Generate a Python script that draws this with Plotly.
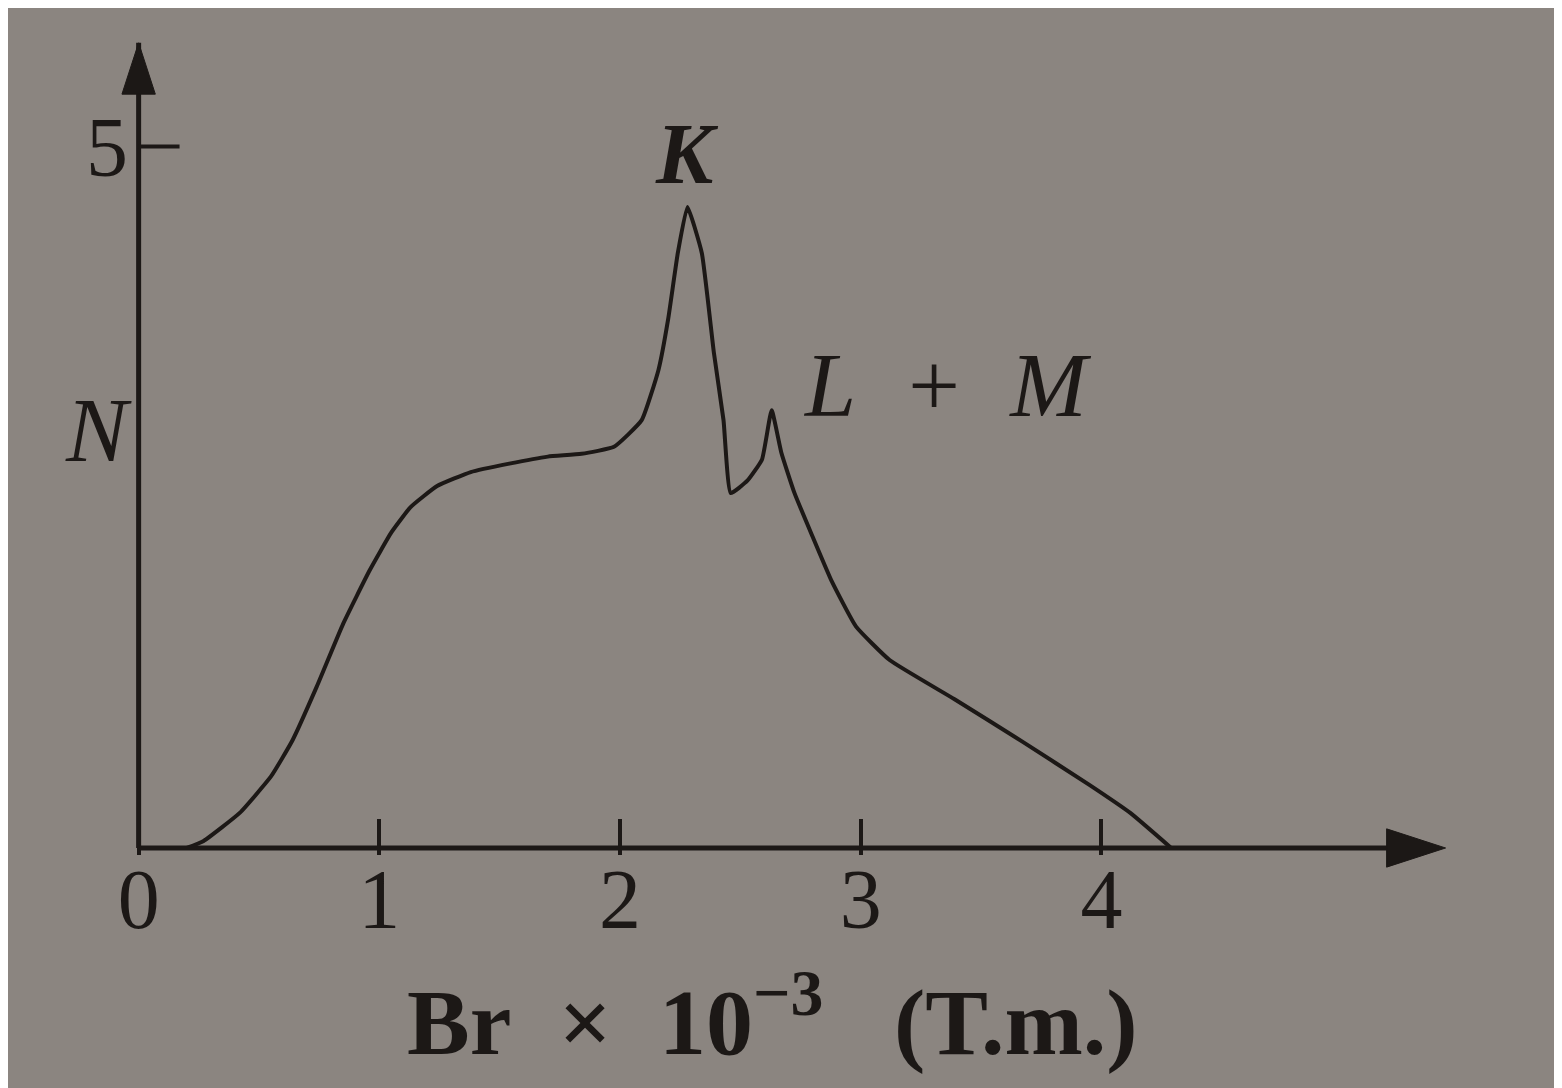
import plotly.graph_objects as go

# Beta spectrum with K and L+M conversion lines
br = [0.20, 0.27, 0.42, 0.55, 0.64, 0.74, 0.85, 0.96, 1.05, 1.13, 1.24, 1.38, 1.54,
      1.70, 1.84, 1.975, 2.09, 2.16, 2.20, 2.24, 2.28, 2.34, 2.39, 2.43, 2.46, 2.53,
      2.59, 2.63, 2.67, 2.725, 2.80, 2.88, 2.98, 3.12, 3.39, 3.67, 3.95, 4.12, 4.29]
counts = [0.0, 0.05, 0.25, 0.51, 0.77, 1.15, 1.60, 1.98, 2.25, 2.43, 2.58, 2.68, 2.74,
          2.79, 2.81, 2.86, 3.05, 3.41, 3.77, 4.24, 4.57, 4.24, 3.53, 3.05, 2.53, 2.62,
          2.77, 3.12, 2.82, 2.53, 2.22, 1.90, 1.58, 1.34, 1.06, 0.76, 0.45, 0.25, 0.0]

x_ticks = [0, 1, 2, 3, 4]
y_ticks = [5]

paper = "#8b8580"
ink = "#1c1816"
serif = "Liberation Serif, Times New Roman, serif"
x_min, x_max = -0.04, 5.44
y_min, y_max = -0.05, 5.76
sp = "\u00a0"

fig = go.Figure()
fig.add_trace(go.Scatter(x=br, y=counts, mode="lines",
                         line=dict(color=ink, width=4, shape="spline", smoothing=0.4),
                         hoverinfo="skip"))

# axes drawn as lines ending in arrow markers
fig.add_trace(go.Scatter(x=[0, x_max - 0.01], y=[0, 0], mode="lines+markers", cliponaxis=False,
                         line=dict(color=ink, width=5),
                         marker=dict(symbol="arrow", size=[0, 62], angleref="previous",
                                     color=ink, opacity=1, line=dict(width=1, color=ink)),
                         hoverinfo="skip"))
fig.add_trace(go.Scatter(x=[0, 0], y=[0, y_max - 0.02], mode="lines+markers", cliponaxis=False,
                         line=dict(color=ink, width=5),
                         marker=dict(symbol="arrow", size=[0, 54], angleref="previous",
                                     color=ink, opacity=1, line=dict(width=1, color=ink)),
                         hoverinfo="skip"))

# peak labels and axis names
fig.add_annotation(x=2.28, y=4.95, text="<i><b>K</b></i>", showarrow=False,
                   font=dict(family=serif, size=86, color=ink))
fig.add_annotation(x=3.36, y=3.3, text=f"<i>L{sp*2}+{sp*2}M</i>", showarrow=False,
                   font=dict(family=serif, size=92, color=ink))
fig.add_annotation(x=-0.0235, y=0.522, xref="paper", yref="paper", text="<i>N</i>",
                   showarrow=False, xanchor="center", yanchor="middle",
                   font=dict(family=serif, size=92, color=ink))
fig.add_annotation(x=0.488, y=-0.196, xref="paper", yref="paper", yanchor="middle",
                   text=f"<b>Br{sp*2}×{sp*2}10<sup>−3</sup>{sp*3}(T.m.)</b>", showarrow=False,
                   font=dict(family=serif, size=94, color=ink))

fig.update_xaxes(range=[x_min, x_max], tickvals=x_ticks, ticktext=[str(v) for v in x_ticks],
                 ticks="inside", ticklen=36, tickwidth=4, tickcolor=ink,
                 showgrid=False, zeroline=False, showline=False, ticklabelstandoff=-12,
                 tickfont=dict(family=serif, size=84, color=ink))
fig.update_yaxes(range=[y_min, y_max], tickvals=y_ticks, ticktext=[str(v) for v in y_ticks],
                 ticks="", showgrid=False, zeroline=False, showline=False, ticklabelstandoff=0,
                 tickfont=dict(family=serif, size=84, color=ink))

# short tick mark at N = 5, to the right of the axis
fig.add_shape(type="line", x0=0, x1=0.17, y0=5, y1=5, xref="x", yref="y",
              line=dict(color=ink, width=4))

fig.update_layout(width=1562, height=1088, showlegend=False,
                  paper_bgcolor=paper, plot_bgcolor=paper,
                  margin=dict(l=121, r=122, t=32, b=241))

fig.write_html("out.html")
